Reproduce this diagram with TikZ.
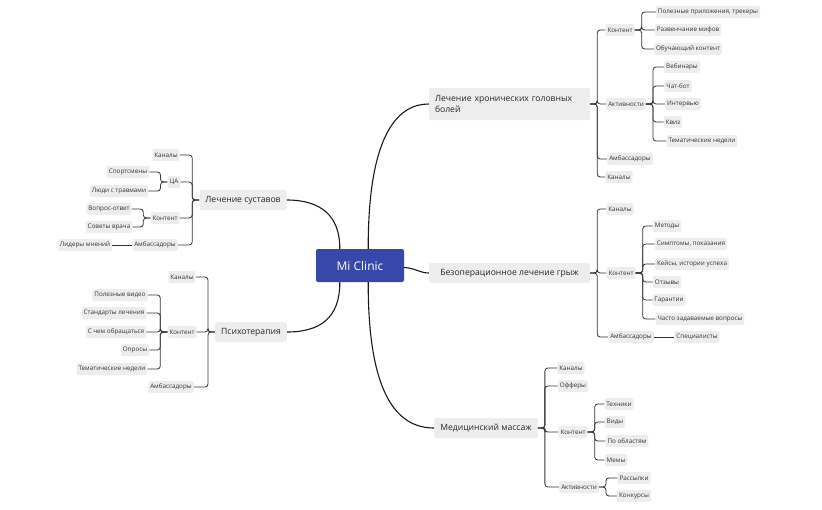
\documentclass[tikz,border=0pt]{standalone}
\usepackage{fontspec}
\setmainfont{Open Sans}
\begin{document}
\begin{tikzpicture}[x=1pt,y=-1pt,
  leaf/.style={fill=black!7,rounded corners=2pt,inner sep=2pt,minimum height=12pt,text=black!80,font=\fontsize{6.3}{7.5}\selectfont},
  br/.style={fill=black!7,rounded corners=2pt,inner xsep=6pt,minimum height=20pt,text=black!85,font=\fontsize{8.6}{11}\selectfont},
  ln/.style={draw=black!80,line width=0.8pt,rounded corners=3pt},
  cv/.style={draw=black!90,line width=1.1pt}]
\useasboundingbox (0,0) rectangle (822,509);
\node[fill={rgb,255:red,55;green,72;blue,170},text=white,rounded corners=2pt,minimum width=88pt,minimum height=33pt,font=\fontsize{12}{14}\selectfont] (c) at (360,265.5) {Mi Clinic};
% right branches
\node[br,align=left,minimum width=161pt,minimum height=32pt,text width=149pt] (b1) at (509.5,104) {Лечение хронических головных\\болей};
\node[br,minimum width=161pt] (b2) at (509.5,273) {Безоперационное лечение грыж};
\node[br] (b3) at (486,428) {Медицинский массаж};
\node[br] (l1) at (243,200) {Лечение суставов};
\node[br] (l2) at (251,332) {Психотерапия};
\draw[cv] (c.north east)++(-36,0) .. controls (368,130) and (400,104) .. (b1.west);
\draw[cv] (c.east)++(0,2) .. controls (415,268) and (420,273) .. (b2.west);
\draw[cv] (c.south east)++(-36,0) .. controls (368,400) and (400,428) .. (b3.west);
\draw[cv] (c.north west)++(24,0) .. controls (340,215) and (320,200) .. (l1.east);
\draw[cv] (c.south west)++(24,0) .. controls (340,318) and (320,332) .. (l2.east);
% right children macro usage
\newcommand\rk[5]{\node[leaf] (#2) at (#3,#4) {#5};\draw[ln] (#1.east) -- ++(7,0) |- (#2.west);}
\newcommand\lk[5]{\node[leaf] (#2) at (#3,#4) {#5};\draw[ln] (#1.west) -- ++(-7,0) |- (#2.east);}
\rk{b1}{b1a}{620}{30}{Контент}
\rk{b1}{b1b}{626}{104}{Активности}
\rk{b1}{b1c}{630}{159}{Амбассадоры}
\rk{b1}{b1d}{619}{177}{Каналы}
\rk{b1a}{b1a1}{708}{12}{Полезные приложения, трекеры}
\rk{b1a}{b1a2}{688}{30}{Развенчание мифов}
\rk{b1a}{b1a3}{688}{49}{Обучающий контент}
\rk{b1b}{b1b1}{682}{67}{Вебинары}
\rk{b1b}{b1b2}{678}{86}{Чат-бот}
\rk{b1b}{b1b3}{683}{104}{Интервью}
\rk{b1b}{b1b4}{673}{122}{Квиз}
\rk{b1b}{b1b5}{702}{141}{Тематические недели}
\rk{b2}{b2a}{620}{209}{Каналы}
\rk{b2}{b2b}{621}{273}{Контент}
\rk{b2}{b2c}{631}{337}{Амбассадоры}
\rk{b2b}{b2b1}{667}{226}{Методы}
\rk{b2b}{b2b2}{691}{244}{Симптомы, показания}
\rk{b2b}{b2b3}{692}{264}{Кейсы, истории успеха}
\rk{b2b}{b2b4}{667}{282}{Отзывы}
\rk{b2b}{b2b5}{669}{300}{Гарантии}
\rk{b2b}{b2b6}{700}{319}{Часто задаваемые вопросы}
\node[leaf] (b2c1) at (697,337) {Специалисты};
\draw[ln] (b2c) -- (b2c1);
\rk{b3}{b3a}{571}{368}{Каналы}
\rk{b3}{b3b}{573}{386}{Офферы}
\rk{b3}{b3c}{573}{432}{Контент}
\rk{b3}{b3d}{579}{487}{Активности}
\rk{b3c}{b3c1}{619}{404}{Техники}
\rk{b3c}{b3c2}{615}{422}{Виды}
\rk{b3c}{b3c3}{627}{441}{По областям}
\rk{b3c}{b3c4}{616}{460}{Мемы}
\rk{b3d}{b3d1}{634}{478}{Рассылки}
\rk{b3d}{b3d2}{634}{496}{Конкурсы}
% left
\lk{l1}{l1a}{166}{155}{Каналы}
\lk{l1}{l1b}{174}{182}{ЦА}
\lk{l1}{l1c}{165}{218}{Контент}
\lk{l1}{l1d}{155}{245}{Амбассадоры}
\lk{l1b}{l1b1}{128}{172}{Спортсмены}
\lk{l1b}{l1b2}{119}{191}{Люди с травмами}
\lk{l1c}{l1c1}{109}{209}{Вопрос-ответ}
\lk{l1c}{l1c2}{109}{227}{Советы врача}
\node[leaf] (l1d1) at (85,245) {Лидеры мнений};
\draw[ln] (l1d) -- (l1d1);
\lk{l2}{l2a}{182}{277}{Каналы}
\lk{l2}{l2b}{182}{332}{Контент}
\lk{l2}{l2c}{171}{387}{Амбассадоры}
\lk{l2b}{l2b1}{120}{295}{Полезные видео}
\lk{l2b}{l2b2}{114}{313}{Стандарты лечения}
\lk{l2b}{l2b3}{116}{332}{С чем обращаться}
\lk{l2b}{l2b4}{135}{350}{Опросы}
\lk{l2b}{l2b5}{112}{369}{Тематические недели}
\end{tikzpicture}
\end{document}
